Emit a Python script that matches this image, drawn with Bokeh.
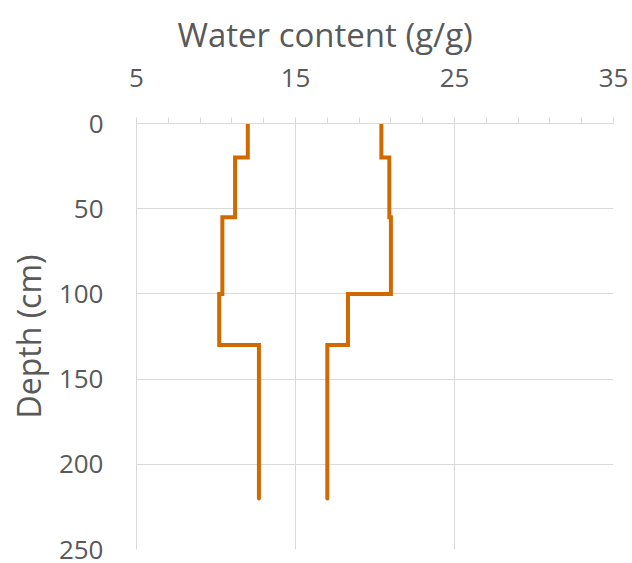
from bokeh.plotting import figure
from bokeh.models import Range1d, FixedTicker, Title
from bokeh.embed import file_html
from bokeh.resources import INLINE

# Layer boundaries (depth, cm) and water contents (g/g)
depth_top = [0, 20, 55, 100, 130]
depth_bottom = [20, 55, 100, 130, 220]
wc_a = [12.0, 11.2, 10.4, 10.2, 12.7]
wc_b = [20.4, 20.9, 21.0, 18.3, 17.0]

x_ticks = [5, 15, 25, 35]
x_minor = [5, 7, 9, 11, 13, 15, 17, 19, 21, 23, 25, 27, 29, 31, 33, 35]
y_ticks = [0, 50, 100, 150, 200, 250]
x_title = "Water content (g/g)"
y_title = "Depth (cm)"


def steps(vals):
    xs, ys = [], []
    for v, t, b in zip(vals, depth_top, depth_bottom):
        xs += [v, v]
        ys += [t, b]
    return xs, ys


FONT = "Open Sans"
TXT = "#595959"
GRID = "#D9D9D9"
LINE = "#D06A00"

p = figure(width=628, height=563, output_backend="svg", toolbar_location=None,
           x_range=Range1d(5, 35), y_range=Range1d(250, 0),
           x_axis_location="above",
           min_border_left=136, min_border_right=15,
           min_border_top=121, min_border_bottom=14)
p.outline_line_color = None

# x axis (top)
xa = p.xaxis[0]
xa.ticker = FixedTicker(ticks=x_ticks, minor_ticks=x_minor)
xa.axis_line_color = GRID
xa.major_tick_line_color = GRID
xa.minor_tick_line_color = GRID
xa.major_tick_out = 6
xa.major_tick_in = 0
xa.minor_tick_out = 6
xa.minor_tick_in = 0
xa.major_label_standoff = 31
xa.major_label_text_font = FONT
xa.major_label_text_font_size = "26px"
xa.major_label_text_color = TXT

# y axis
ya = p.yaxis[0]
ya.ticker = FixedTicker(ticks=y_ticks)
ya.axis_line_color = GRID
ya.major_tick_line_color = None
ya.minor_tick_line_color = None
ya.major_tick_out = 0
ya.major_tick_in = 0
ya.major_label_standoff = 33
ya.major_label_text_font = FONT
ya.major_label_text_font_size = "26px"
ya.major_label_text_color = TXT
ya.axis_label = y_title
ya.axis_label_text_font = FONT
ya.axis_label_text_font_size = "32px"
ya.axis_label_text_font_style = "normal"
ya.axis_label_text_color = TXT
ya.axis_label_standoff = 6

p.xgrid.ticker = FixedTicker(ticks=x_ticks)
p.ygrid.ticker = FixedTicker(ticks=y_ticks)
p.xgrid.grid_line_color = GRID
p.ygrid.grid_line_color = GRID

p.title = Title(text=x_title, align="left", offset=41,
                text_font=FONT, text_font_size="33px", text_font_style="normal",
                text_color=TXT, standoff=18)

for vals in (wc_a, wc_b):
    xs, ys = steps(vals)
    p.line(xs, ys, line_color=LINE, line_width=4, line_join="miter", line_cap="round")

open("out.html", "w").write(file_html(p, INLINE))
